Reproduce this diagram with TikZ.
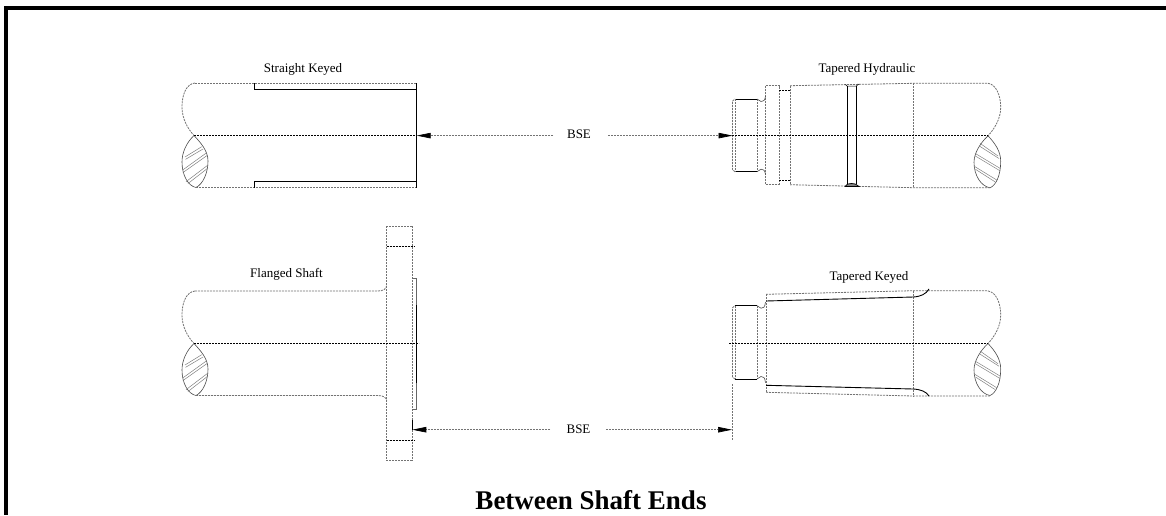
\documentclass[tikz,border=0pt]{standalone}
\usepackage{fontspec}
\setmainfont{Liberation Serif}
\usetikzlibrary{arrows.meta}
\tikzset{
 x=1pt,y=-1pt,
 edge/.style={draw=black!55,line width=0.8pt,dash pattern=on 2pt off 1pt},
 solidedge/.style={draw=black!70,line width=0.6pt},
 thick edge/.style={draw=black,line width=0.9pt},
 centre/.style={draw=black,line width=0.8pt,dash pattern=on 2pt off 1pt},
 hatch/.style={draw=black!50,line width=0.5pt},
 dim/.style={draw=black!55,line width=0.7pt,dash pattern=on 2pt off 1pt},
 tip/.style={-{Triangle[length=14pt,width=5.5pt,black,sep=0pt]}},
 lab/.style={font=\fontsize{13}{14}\selectfont,inner sep=0pt},
}
\newcommand{\breakleft}[1]{% left broken end
 \begin{scope}[shift={(0,#1)}]
 \draw[edge] (195,0) .. controls (186,1) and (182,12) .. (182,24) .. controls (182,36) and (188,46) .. (194,52.5);
 \draw[solidedge] (194,52.5) .. controls (186,60) and (182,70) .. (182,79) .. controls (182,92) and (188,103) .. (196,104.5) .. controls (203,101) and (208,90) .. (208,78) .. controls (208,68) and (201,60) .. (194,52.5);
 \draw[hatch] (185,74) -- (201.7,63.7) (185.6,76.3) -- (203,66);
 \draw[hatch] (182.7,87) -- (206.7,69.7) (183,89.5) -- (207.5,72.2);
 \draw[hatch] (186,98.7) -- (208,82) (188,100.5) -- (208,85);
 \end{scope}}
\newcommand{\breakright}[1]{% right broken end
 \begin{scope}[shift={(0,#1)}]
 \draw[edge] (988,0) .. controls (996,1) and (1000.7,12) .. (1000.7,24) .. controls (1000.7,36) and (994,46) .. (988,52.5);
 \draw[solidedge] (988,52.5) .. controls (995,60) and (1000.7,68) .. (1000.7,78) .. controls (1000.7,92) and (996,102) .. (990,104.5) .. controls (981,103) and (974,92) .. (974,79) .. controls (974,70) and (980,60) .. (988,52.5);
 \draw[hatch] (980,60) -- (998,72.7) (979,62.5) -- (999,75.2);
 \draw[hatch] (975,70) -- (1000,85) (975,72.5) -- (1000,87.5);
 \draw[hatch] (975,83.4) -- (996.7,96.7) (975.5,86) -- (995,98.5);
 \end{scope}}
\newcommand{\threadend}[3]{% top y, bottom y, end of the relief
 \draw[edge] (732.5,#1+2) -- (735,#1) (735,#2) -- (732.5,#2-2) -- (732.5,#1+2);
 \draw[thick edge,line width=0.8pt] (735,#1) -- (757,#1) (735,#2) -- (757,#2);
 \draw[edge] (735,#1) -- (735,#2) (757,#1) -- (757,#2);
 \draw[solidedge] (757,#1) .. controls (759,#1) and (759,#1+2.5) .. (761,#1+2.5) .. controls (763,#1+2.5) and (765,#1+2) .. (765.5,#3) ;
 \draw[solidedge] (757,#2) .. controls (759,#2) and (759,#2-2.5) .. (761,#2-2.5) .. controls (763,#2-2.5) and (765,#2-2) .. (765.5,#2+#1-#3);
}
\begin{document}
\begin{tikzpicture}
\useasboundingbox (0,0) rectangle (1166,515);
\fill[white] (0,0) rectangle (1166,515);
% frame
\fill[black] (4,6) rectangle (1166,10);
\fill[black] (4,6) rectangle (8,515);

% --- Straight keyed
\breakleft{83}
\draw[edge] (195,83) -- (416.7,83) (196,187.6) -- (416.7,187.6);
\draw[thick edge,line width=0.8pt] (416.7,83) -- (416.7,187.6);
\draw[thick edge] (254.7,83) -- (254.7,89.3) -- (416.7,89.3);
\draw[thick edge] (254.7,187.6) -- (254.7,181.3) -- (416.7,181.3);
\draw[centre] (194,135.6) -- (416.7,135.6);
\node[lab] (sk) at (303,69) {Straight Keyed};

% --- Tapered hydraulic
\breakright{83.3}
\draw[edge] (765.7,85.7) -- (779,85.7) -- (779,184.7) -- (765.7,184.7) -- cycle;
\draw[centre,line width=0.7pt] (779,90) -- (790,90) (779,180) -- (790,180);
\draw[edge] (790,85.7) -- (790,184.7);
\draw[edge] (790,85.7) -- (913.3,83.3) -- (988,83.3);
\draw[edge] (790,184.7) -- (913.3,187.7) -- (990,187.7);
\draw[edge] (913.3,83.3) -- (913.3,187.7);
\threadend{99}{171.7}{96}
\draw[thick edge,line width=0.8pt] (847.3,86) -- (847.3,183.5) (856,86) -- (856,183.5);
\draw[thick edge,line width=0.5pt] (845.5,84.5) .. controls (846,85.7) .. (847.3,86.2) -- (856,86.2) .. controls (857.5,85.7) .. (859,84);
\draw[thick edge,line width=0.7pt,fill=black!50] (845,186.5) .. controls (847,184) .. (851.5,183.5) .. controls (856,184) .. (859,186.5) -- cycle;
\draw[centre] (732,135.6) -- (988,135.6);
\node[lab] (th) at (867,69) {Tapered Hydraulic};

% --- BSE upper
\node[lab] (bse1) at (579,134) {BSE};
\coordinate (a1) at (416.7,135.6);
\coordinate (a2) at (732.5,135.6);
\coordinate (a3) at (553,135.6);
\coordinate (a4) at (608,135.6);
\draw[dim,tip] (a3) -- (a1);
\draw[dim,tip] (a4) -- (a2);

% --- Flanged shaft
\breakleft{291}
\draw[edge] (195,291) -- (378,291) .. controls (383,291) and (386.7,289) .. (386.7,285);
\draw[edge] (196,395.5) -- (378,395.5) .. controls (383,395.5) and (386.7,397.5) .. (386.7,401);
\draw[edge] (386.7,226) rectangle (412.3,460.3);
\draw[centre] (386.7,246) -- (414,246) (386.7,440.3) -- (414,440.3);
\draw[draw=black!60,line width=0.5pt] (412.3,278) -- (416.7,278) -- (416.7,409) -- (412.3,409);
\draw[thick edge,line width=0.8pt] (416.7,305) -- (416.7,383);
\draw[centre] (194,343.5) -- (419,343.5);
\node[lab] (fs) at (286.5,274) {Flanged Shaft};

% --- Tapered keyed
\breakright{291}
\draw[edge] (766,294.3) -- (913.3,290.7) -- (988,290.7);
\draw[edge] (766,392.3) -- (913.3,396) -- (990,396);
\draw[edge] (766,294.3) -- (766,392.3);
\draw[edge] (913.3,290.7) -- (913.3,396);
\threadend{305.7}{379}{302}
\draw[thick edge] (766,301) -- (913.3,297) .. controls (921,296.5) and (926,294) .. (929,289);
\draw[thick edge] (766,385.3) -- (913.3,389) .. controls (921,389.5) and (926,391.5) .. (929,396);
\draw[centre] (729,343.2) -- (988,343.2);
\node[lab] (tk) at (869,277.5) {Tapered Keyed};

% --- BSE lower
\coordinate (ext1) at (732,384);
\coordinate (ext2) at (732,440);
\draw[edge] (ext1) -- (ext2);
\coordinate (ext3) at (412.3,420);
\coordinate (ext4) at (412.3,430);
\draw[thick edge,line width=0.7pt] (ext3) -- (ext4);
\node[lab] (bse2) at (578.5,429) {BSE};
\coordinate (b1) at (412.3,429.7);
\coordinate (b2) at (732,429.7);
\coordinate (b3) at (550,429.7);
\coordinate (b4) at (606,429.7);
\draw[dim,tip] (b3) -- (b1);
\draw[dim,tip] (b4) -- (b2);

\node[inner sep=0pt,anchor=base,font=\fontsize{27}{28}\selectfont\bfseries] (title) at (591,509) {Between Shaft Ends};
\end{tikzpicture}
\end{document}
